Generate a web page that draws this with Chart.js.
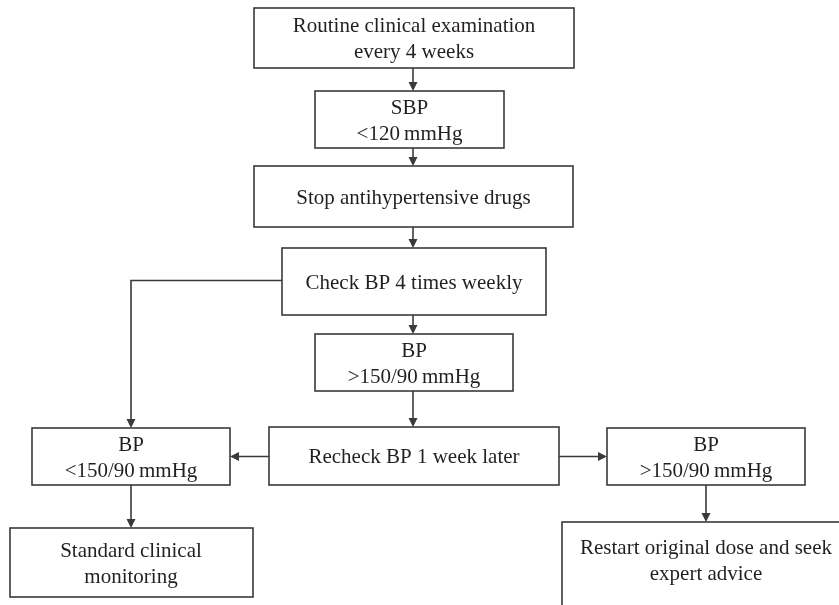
<!DOCTYPE html>
<html>
<head>
<meta charset="utf-8">
<script src="https://cdn.jsdelivr.net/npm/chart.js@4"></script>
<style>
  html, body { margin: 0; padding: 0; background: #fff; }
  #wrap { width: 839px; height: 605px; }
</style>
</head>
<body>
<div id="wrap"><canvas id="flow"></canvas></div>
<script>
// node texts (one entry per box, lines split by \n)
const nodeLabels = [
    'Routine clinical examination\nevery 4 weeks',
    'SBP\n<120\u2009mmHg',
    'Stop antihypertensive drugs',
    'Check BP 4 times weekly',
    'BP\n>150/90\u2009mmHg',
    'Recheck BP 1 week later',
    'BP\n<150/90\u2009mmHg',
    'BP\n>150/90\u2009mmHg',
    'Standard clinical\nmonitoring',
    'Restart original dose and seek\nexpert advice'
];

// connections: [from, to, exit side]
const links = [
    [0, 1, 'down'],
    [1, 2, 'down'],
    [2, 3, 'down'],
    [3, 4, 'down'],
    [4, 5, 'down'],
    [3, 6, 'left'],
    [5, 6, 'left'],
    [5, 7, 'right'],
    [6, 8, 'down'],
    [7, 9, 'down']
];

// box layout in chart units: left, top, right, bottom
const layout = [
    [254, 8, 574, 68],
    [315, 91, 504, 148],
    [254, 166, 573, 227],
    [282, 248, 546, 315],
    [315, 334, 513, 391],
    [269, 427, 559, 485],
    [32, 428, 230, 485],
    [607, 428, 805, 485],
    [10, 528, 253, 597],
    [562, 522, 850, 625]
];
const arrowX = [413, 413, 413, 413, 413, 413, 131, 706, 131, 706];

const lineColor = '#3a3a3a';
const textColor = '#231f20';

const flowPlugin = {
    id: 'flow',
    afterDraw(chart) {
        const ctx = chart.ctx;
        const xs = chart.scales.x, ys = chart.scales.y;
        const px = v => xs.getPixelForValue(v);
        const py = v => ys.getPixelForValue(v);

        function arrowHead(x, y, dir) {
            const s = 9, h = 4.5;
            ctx.beginPath();
            if (dir === 'down') {
                ctx.moveTo(x, y); ctx.lineTo(x - h, y - s); ctx.lineTo(x + h, y - s);
            } else if (dir === 'left') {
                ctx.moveTo(x, y); ctx.lineTo(x + s, y - h); ctx.lineTo(x + s, y + h);
            } else {
                ctx.moveTo(x, y); ctx.lineTo(x - s, y - h); ctx.lineTo(x - s, y + h);
            }
            ctx.closePath();
            ctx.fill();
        }

        ctx.save();
        ctx.strokeStyle = lineColor;
        ctx.fillStyle = lineColor;
        ctx.lineWidth = 1.6;

        links.forEach(([a, b, side]) => {
            const A = layout[a], B = layout[b];
            ctx.beginPath();
            if (side === 'down') {
                const x = px(arrowX[b]);
                ctx.moveTo(x, py(A[3]));
                ctx.lineTo(x, py(B[1]) - 6);
                ctx.stroke();
                arrowHead(x, py(B[1]), 'down');
            } else if (side === 'left' && B[1] > A[3] + 50) {
                // elbow: out of the left side, then down
                const y = (py(A[1]) + py(A[3])) / 2 - 1;
                const x = px(arrowX[b]);
                ctx.moveTo(px(A[0]), y);
                ctx.lineTo(x, y);
                ctx.lineTo(x, py(B[1]) - 6);
                ctx.stroke();
                arrowHead(x, py(B[1]), 'down');
            } else if (side === 'left') {
                const y = (py(B[1]) + py(B[3])) / 2;
                ctx.moveTo(px(A[0]), y);
                ctx.lineTo(px(B[2]) + 6, y);
                ctx.stroke();
                arrowHead(px(B[2]), y, 'left');
            } else {
                const y = (py(B[1]) + py(B[3])) / 2;
                ctx.moveTo(px(A[2]), y);
                ctx.lineTo(px(B[0]) - 6, y);
                ctx.stroke();
                arrowHead(px(B[0]), y, 'right');
            }
        });

        // boxes and text
        ctx.font = '21px "Liberation Serif", "DejaVu Serif", serif';
        ctx.textAlign = 'center';
        ctx.textBaseline = 'alphabetic';
        nodeLabels.forEach((label, i) => {
            const [l, t, r, b] = layout[i];
            const x0 = px(l), y0 = py(t), x1 = px(r), y1 = py(b);
            ctx.fillStyle = '#fff';
            ctx.fillRect(x0, y0, x1 - x0, y1 - y0);
            ctx.strokeStyle = lineColor;
            ctx.strokeRect(x0, y0, x1 - x0, y1 - y0);
            const lines = label.split('\n');
            const lh = 26;
            let cx = px(arrowX[i]);
            if (i < 6) cx = (x0 + x1) / 2;
            let cy = (y0 + y1) / 2;
            if (i === 9) cy = py(560);
            ctx.fillStyle = textColor;
            lines.forEach((ln, k) => {
                const yy = cy + (k - (lines.length - 1) / 2) * lh + 7;
                ctx.fillText(ln, cx, yy);
            });
        });
        ctx.restore();
    }
};

new Chart(document.getElementById('flow'), {
    type: 'scatter',
    data: {
        datasets: [{
            data: nodeLabels.map((_, i) => ({ x: arrowX[i], y: (layout[i][1] + layout[i][3]) / 2 })),
            pointRadius: 0,
            pointHoverRadius: 0
        }]
    },
    options: {
        responsive: true,
        maintainAspectRatio: false,
        animation: false,
        layout: { padding: 0 },
        plugins: { legend: { display: false }, tooltip: { enabled: false } },
        events: [],
        scales: {
            x: { type: 'linear', min: 0, max: 839, display: false },
            y: { type: 'linear', min: 0, max: 605, reverse: true, display: false }
        }
    },
    plugins: [flowPlugin]
});
</script>
</body>
</html>
